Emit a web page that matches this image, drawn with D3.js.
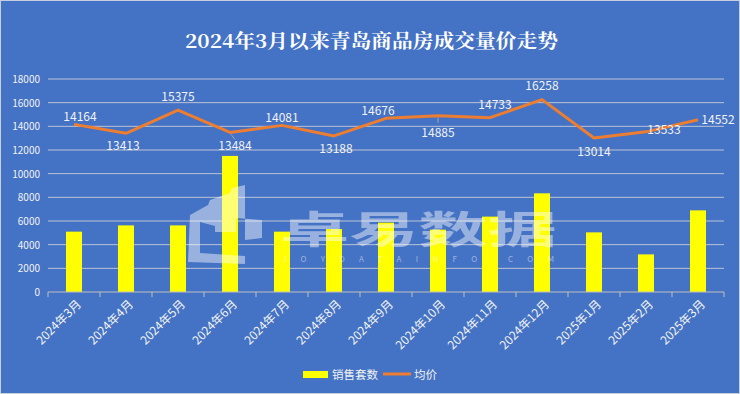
<!DOCTYPE html>
<html>
<head>
<meta charset="utf-8">
<script src="https://cdn.jsdelivr.net/npm/d3@7"></script>
<style>
  body { margin: 0; background: #fff; }
  svg { display: block; font-family: "Microsoft YaHei", "Noto Sans CJK SC", sans-serif; }
</style>
</head>
<body>
<svg id="chart"></svg>
<script>
var categories = ["2024年3月", "2024年4月", "2024年5月", "2024年6月", "2024年7月", "2024年8月",
  "2024年9月", "2024年10月", "2024年11月", "2024年12月", "2025年1月", "2025年2月", "2025年3月"];
var sales = [5100, 5630, 5630, 11500, 5100, 5320, 5860, 5270, 6370, 8340, 5040, 3180, 6900];
var prices = [14164, 13413, 15375, 13484, 14081, 13188, 14676, 14885, 14733, 16258, 13014, 13533, 14552];
var yTicks = [0, 2000, 4000, 6000, 8000, 10000, 12000, 14000, 16000, 18000];
// label placement: dx, dy relative to point (text center)
var labelPos = [[6, -8], [-3, 13], [0, -13], [5, 13], [0, -8], [2, 13], [-8, -8], [0, 17], [5, -13], [0, -14], [0, 14], [18, -2], [20, 0]];

var W = 740, H = 394;
var margin = {top: 79, right: 16, bottom: 102, left: 48};
var width = W - margin.left - margin.right,
    height = H - margin.top - margin.bottom;

var root = d3.select("#chart").attr("width", W).attr("height", H);

root.append("rect").attr("x", 0.5).attr("y", 0.5).attr("width", W - 1).attr("height", H - 1)
  .style("fill", "#4472c4").style("stroke", "#c5cfe0");

root.append("text").attr("x", 185).attr("y", 48)
  .style("font-family", "'Noto Serif CJK SC', 'DejaVu Serif', serif")
  .style("font-weight", "bold").style("font-size", "19px").style("fill", "#fff")
  .attr("textLength", 373).attr("lengthAdjust", "spacingAndGlyphs")
  .text("2024年3月以来青岛商品房成交量价走势");

var svg = root.append("g").attr("transform", "translate(" + margin.left + "," + margin.top + ")");

var x = d3.scaleBand().domain(categories).range([0, width]);
var y = d3.scaleLinear().domain([0, 18000]).range([height, 0]);

// gridlines
svg.selectAll(".grid").data(yTicks.slice(1)).enter().append("line")
  .attr("x1", 0).attr("x2", width)
  .attr("y1", function (d) { return y(d); }).attr("y2", function (d) { return y(d); })
  .style("stroke", "#d9d9d9").style("stroke-width", 1).style("opacity", 0.8);

// y labels
svg.selectAll(".ylab").data(yTicks).enter().append("text")
  .attr("x", -8).attr("y", function (d) { return y(d) + 4; })
  .attr("text-anchor", "end").style("font-size", "10px").style("fill", "#f2f2f2")
  .text(function (d) { return d; });

// bars
svg.selectAll(".bar").data(sales).enter().append("rect")
  .attr("x", function (d, i) { return x(categories[i]) + x.bandwidth() / 2 - 8; })
  .attr("y", function (d) { return y(d); })
  .attr("width", 16)
  .attr("height", function (d) { return height - y(d); })
  .style("fill", "#ffff00");

// x axis
var xAxis = svg.append("g").attr("transform", "translate(0," + height + ")");
xAxis.append("line").attr("x1", 0).attr("x2", width).style("stroke", "#bfbfbf");
xAxis.selectAll(".tk").data(d3.range(categories.length + 1)).enter().append("line")
  .attr("x1", function (i) { return i * x.step(); }).attr("x2", function (i) { return i * x.step(); })
  .attr("y1", 0).attr("y2", 5).style("stroke", "#bfbfbf");
xAxis.selectAll(".xl").data(categories).enter().append("text")
  .attr("transform", function (d) { return "translate(" + (x(d) + x.bandwidth() / 2 + 5) + ",10) rotate(-45)"; })
  .attr("text-anchor", "end").attr("dy", "0.35em")
  .style("font-size", "12px").style("fill", "#f2f2f2")
  .text(function (d) { return d; });

// line
var line = d3.line()
  .x(function (d, i) { return x(categories[i]) + x.bandwidth() / 2; })
  .y(function (d) { return y(d); });
svg.append("path").datum(prices).attr("d", line)
  .style("fill", "none").style("stroke", "#ed7d31").style("stroke-width", 3).style("stroke-linejoin", "round");

// leader lines
[3, 7].forEach(function (i) {
  var cx = x(categories[i]) + x.bandwidth() / 2;
  svg.append("line").attr("x1", cx + (i == 3 ? 1 : 0)).attr("x2", cx + (i == 3 ? 5 : 0))
    .attr("y1", y(prices[i]) + 2).attr("y2", y(prices[i]) + 7)
    .style("stroke", "#a6a6a6").style("stroke-width", 1);
});

// labels
svg.selectAll(".pl").data(prices).enter().append("text")
  .attr("x", function (d, i) { return x(categories[i]) + x.bandwidth() / 2 + labelPos[i][0]; })
  .attr("y", function (d, i) { return y(d) + labelPos[i][1]; })
  .attr("dy", "0.35em").attr("text-anchor", "middle")
  .style("font-size", "12px").style("fill", "#f2f2f2")
  .text(function (d) { return d; });

// watermark
var wm = root.append("g").style("opacity", 0.45);
wm.append("path")
  .attr("d", "M190,215 L208,205 L210,200 L230,193 L232,188 L245,185 L245,240 L262,238 L262,220 L236,218 L236,232 L215,232 L215,226 L200,222 L200,253 L245,256 L245,264 L188,262 Z")
  .style("fill", "#fff");
wm.append("text").attr("x", 280).attr("y", 243)
  .style("font-size", "38px").style("font-weight", "bold").style("fill", "#fff")
  .attr("textLength", 277).attr("lengthAdjust", "spacingAndGlyphs")
  .text("卓易数据");
wm.append("text").attr("x", 282).attr("y", 262)
  .style("font-size", "8px").style("fill", "#fff")
  .attr("textLength", 272).attr("lengthAdjust", "spacing")
  .text("JOYDATAINFO.COM");

// legend
var lg = root.append("g");
lg.append("rect").attr("x", 303).attr("y", 371).attr("width", 25).attr("height", 7).style("fill", "#ffff00");
lg.append("text").attr("x", 332).attr("y", 375).attr("dy", "0.35em")
  .style("font-size", "11.5px").style("fill", "#f2f2f2").text("销售套数");
lg.append("line").attr("x1", 383).attr("x2", 411).attr("y1", 374).attr("y2", 374)
  .style("stroke", "#ed7d31").style("stroke-width", 3);
lg.append("text").attr("x", 414).attr("y", 375).attr("dy", "0.35em")
  .style("font-size", "11.5px").style("fill", "#f2f2f2").text("均价");
</script>
</body>
</html>
